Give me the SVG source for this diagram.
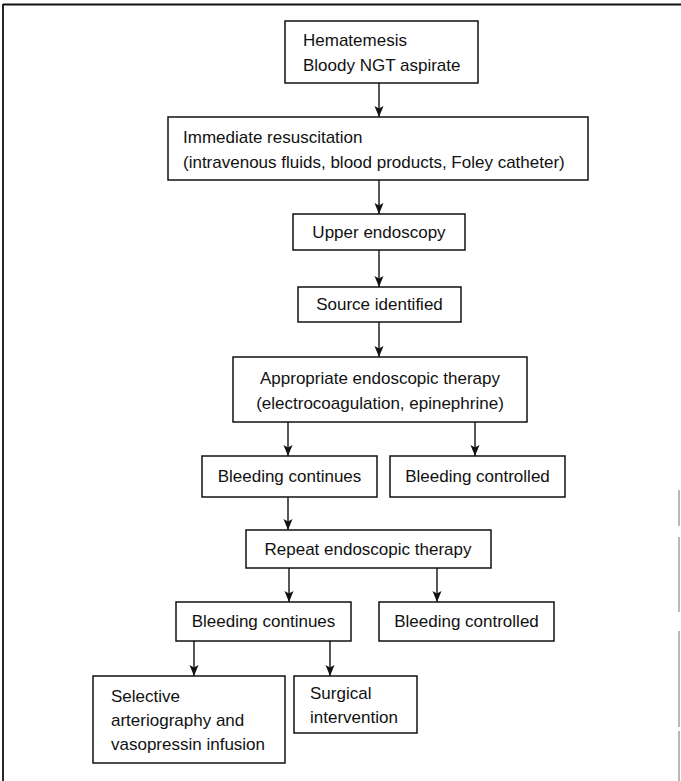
<svg xmlns="http://www.w3.org/2000/svg" width="681" height="781" viewBox="0 0 681 781">
  <style>
    .box { fill: #ffffff; stroke: #111111; stroke-width: 1.5; }
    .lbl { font-family: "Liberation Sans", Arial, sans-serif; font-size: 17px; fill: #111111; }
    .mid { text-anchor: middle; }
    .edge { stroke: #111111; stroke-width: 1.4; fill: none; marker-end: url(#arrow); }
    .frame { stroke: #111111; stroke-width: 1.8; fill: none; }
    .frame-faint { stroke: #8a8a8a; stroke-width: 1.2; fill: none; }
  </style>
  <defs>
    <marker id="arrow" markerUnits="userSpaceOnUse" markerWidth="12" markerHeight="10" refX="11" refY="4.5" orient="auto">
      <path d="M0,0 L11,4.5 L0,9 L2.5,4.5 Z" fill="#111111"/>
    </marker>
  </defs>

  <rect x="0" y="0" width="681" height="781" fill="#ffffff"/>

  <!-- outer frame -->
  <g id="frame">
    <line class="frame" x1="3" y1="4.5" x2="681" y2="4.5"/>
    <line class="frame" x1="3" y1="4" x2="3" y2="781"/>
    <path class="frame-faint" d="M679,490 V526 M679,537 V612 M679,631 V727 M679,731 V781"/>
  </g>

  <!-- connectors -->
  <g id="connectors">
    <line class="edge" x1="379" y1="83" x2="379" y2="117"/>
    <line class="edge" x1="379" y1="180" x2="379" y2="214"/>
    <line class="edge" x1="379" y1="250" x2="379" y2="287"/>
    <line class="edge" x1="379" y1="322" x2="379" y2="357"/>
    <line class="edge" x1="288" y1="422" x2="288" y2="456"/>
    <line class="edge" x1="475" y1="422" x2="475" y2="456"/>
    <line class="edge" x1="288" y1="497" x2="288" y2="530"/>
    <line class="edge" x1="289" y1="568" x2="289" y2="602"/>
    <line class="edge" x1="437" y1="568" x2="437" y2="602"/>
    <line class="edge" x1="194" y1="641" x2="194" y2="676"/>
    <line class="edge" x1="330" y1="641" x2="330" y2="676"/>
  </g>

  <g id="hematemesis">
    <rect class="box" x="285" y="21" width="193" height="62"/>
    <text class="lbl" x="303" y="46">Hematemesis</text>
    <text class="lbl" x="303" y="71">Bloody NGT aspirate</text>
  </g>

  <g id="resuscitation">
    <rect class="box" x="168" y="117" width="420" height="63"/>
    <text class="lbl" x="183" y="143">Immediate resuscitation</text>
    <text class="lbl" x="183" y="168">(intravenous fluids, blood products, Foley catheter)</text>
  </g>

  <g id="upper-endoscopy">
    <rect class="box" x="293" y="214" width="172" height="36"/>
    <text class="lbl mid" x="379" y="238">Upper endoscopy</text>
  </g>

  <g id="source-identified">
    <rect class="box" x="298" y="287" width="163" height="35"/>
    <text class="lbl mid" x="379.5" y="310">Source identified</text>
  </g>

  <g id="endoscopic-therapy">
    <rect class="box" x="233" y="357" width="294" height="65"/>
    <text class="lbl mid" x="380" y="384">Appropriate endoscopic therapy</text>
    <text class="lbl mid" x="380" y="409">(electrocoagulation, epinephrine)</text>
  </g>

  <g id="bleeding-continues-1">
    <rect class="box" x="202" y="456" width="175" height="41"/>
    <text class="lbl mid" x="289.5" y="482">Bleeding continues</text>
  </g>

  <g id="bleeding-controlled-1">
    <rect class="box" x="390" y="456" width="175" height="41"/>
    <text class="lbl mid" x="477.5" y="482">Bleeding controlled</text>
  </g>

  <g id="repeat-therapy">
    <rect class="box" x="246" y="530" width="245" height="38"/>
    <text class="lbl mid" x="368" y="555">Repeat endoscopic therapy</text>
  </g>

  <g id="bleeding-continues-2">
    <rect class="box" x="176" y="602" width="175" height="39"/>
    <text class="lbl mid" x="263.5" y="627">Bleeding continues</text>
  </g>

  <g id="bleeding-controlled-2">
    <rect class="box" x="379" y="602" width="175" height="39"/>
    <text class="lbl mid" x="466.5" y="627">Bleeding controlled</text>
  </g>

  <g id="arteriography">
    <rect class="box" x="93" y="676" width="192" height="87"/>
    <text class="lbl" x="111" y="702">Selective</text>
    <text class="lbl" x="111" y="726">arteriography and</text>
    <text class="lbl" x="111" y="750">vasopressin infusion</text>
  </g>

  <g id="surgical-intervention">
    <rect class="box" x="294" y="676" width="123" height="57"/>
    <text class="lbl" x="310" y="699">Surgical</text>
    <text class="lbl" x="310" y="723">intervention</text>
  </g>
</svg>
